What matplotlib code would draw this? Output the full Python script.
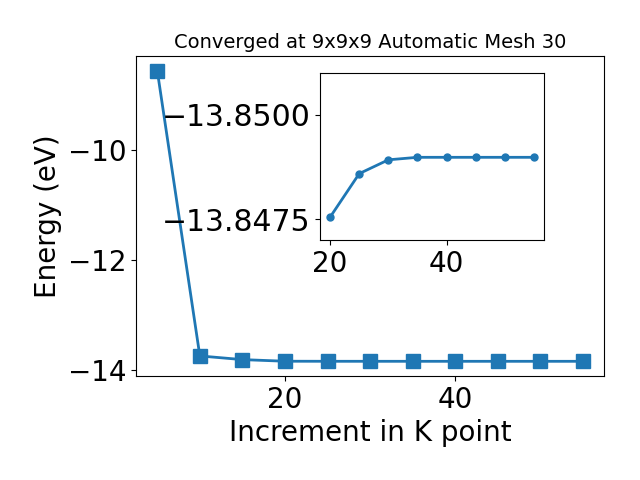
import matplotlib
matplotlib.use("Agg")
import matplotlib.pyplot as plt
from matplotlib.ticker import MultipleLocator

kpoints = [5, 10, 15, 20, 25, 30, 35, 40, 45, 50, 55]
energy = [-8.545, -13.751, -13.818, -13.8476, -13.8486, -13.8489, -13.8490, -13.8490, -13.8490, -13.8490, -13.8490]

inset_k = [20, 25, 30, 35, 40, 45, 50, 55]
inset_e = [-13.84755, -13.84859, -13.84892, -13.84898, -13.84898, -13.84898, -13.84898, -13.84898]

fig = plt.figure(figsize=(6.4, 4.8), dpi=100)
ax = fig.add_axes([0.2125, 0.217, 0.7315, 0.666])
ax.plot(kpoints, energy, marker='s', markersize=10, linewidth=2, color='#1f77b4')
ax.set_xlabel('Increment in K point', fontsize=20)
ax.set_ylabel('Energy (eV)', fontsize=20)
ax.tick_params(labelsize=20)
ax.set_title('Converged at 9x9x9 Automatic Mesh 30', fontsize=14)

axin = fig.add_axes([0.5, 0.5, 0.35, 0.348])
axin.plot(inset_k, inset_e, marker='o', markersize=5, linewidth=2, color='#1f77b4')
axin.set_ylim(-13.847, -13.851)
axin.yaxis.set_major_locator(MultipleLocator(0.0025))
axin.ticklabel_format(axis='y', useOffset=False)
axin.tick_params(axis='x', labelsize=20)
axin.tick_params(axis='y', labelsize=21.5)

fig.savefig('out.png', dpi=100)
